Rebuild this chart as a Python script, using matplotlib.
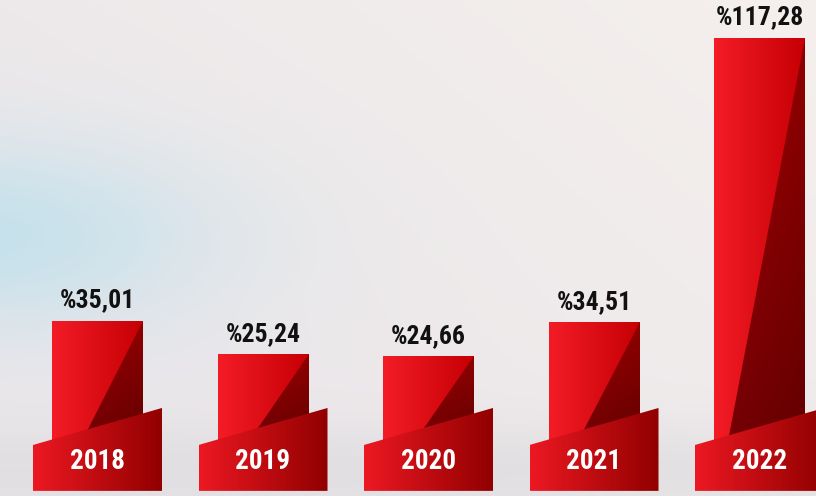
import numpy as np
import matplotlib
matplotlib.use("Agg")
import matplotlib.pyplot as plt
from matplotlib.patches import Polygon
from matplotlib import font_manager

# data
years = ["2018", "2019", "2020", "2021", "2022"]
values = [35.01, 25.24, 24.66, 34.51, 117.28]
value_labels = ["%" + f"{v:.2f}".replace(".", ",") for v in values]

# pick a narrow bold face if one is installed
names = {f.name for f in font_manager.fontManager.ttflist}
FONT = next((n for n in ["Liberation Sans Narrow", "Roboto Condensed", "Roboto", "DejaVu Sans"]
             if n in names), "DejaVu Sans")

W, H = 816, 496
fig = plt.figure(figsize=(W / 100, H / 100), dpi=100)
ax = fig.add_axes([0, 0, 1, 1])
ax.axis("off")

# axes scale: 165.5 px per bar slot, 3.44 px per percent, baseline 55 px from bottom
PX_X, PX_Y, BASE = 165.5, 3.44, 55
x0, x1 = -97.5 / PX_X, (W - 97.5) / PX_X
y0, y1 = -BASE / PX_Y, (H - BASE) / PX_Y
ax.set_xlim(x0, x1)
ax.set_ylim(y0, y1)

# background: pale grey, warm towards top right, bluish haze on the left
yy, xx = np.mgrid[0:H, 0:W].astype(float)
base = np.array([235, 231, 234]) / 255
warm = np.array([246, 241, 237]) / 255
blue = np.array([194, 225, 236]) / 255
grey = np.array([216, 215, 219]) / 255
t = np.clip((xx / W) * 0.7 + (1 - yy / H) * 0.5 - 0.3, 0, 1)[..., None]
bg = base * (1 - t) + warm * t
b = np.exp(-(((xx + 20) / 230) ** 2 + ((yy - 235) / 95) ** 2))[..., None]
bg = bg * (1 - 0.9 * b) + blue * 0.9 * b
g = np.exp(-((yy - 470) / 45) ** 2)[..., None] * 0.5
bg = bg * (1 - g) + grey * g
ax.imshow(bg, extent=(x0, x1, y0, y1), aspect="auto", zorder=0)


def grad_fill(poly_xy, c_left, c_right, extent, vertical=None, z=2):
    n = 64
    tx = np.linspace(0, 1, n)[None, :, None]
    img = np.array(c_left) / 255 * (1 - tx) + np.array(c_right) / 255 * tx
    img = np.repeat(img, n, axis=0)
    if vertical is not None:
        ty = np.linspace(0, 1, n)[:, None, None]  # 0 = top row
        img = img * (1 - vertical * ty)
    patch = Polygon(poly_xy, closed=True, transform=ax.transData, facecolor="none", edgecolor="none")
    im = ax.imshow(img, extent=extent, aspect="auto", interpolation="bilinear", zorder=z)
    im.set_clip_path(patch)


BAR_W = 91 / PX_X
PLATE_W = 129 / PX_X
vmax = max(values)
for i, (yr, v, lab) in enumerate(zip(years, values, value_labels)):
    l, r = i - BAR_W / 2, i + BAR_W / 2
    # main bar
    grad_fill([(l, 0), (l, v), (r, v), (r, 0)], (243, 28, 38), (198, 0, 4), (l, r, 0, v), z=2)
    # dark diagonal face
    frac = 0.6 + 0.25 * v / vmax
    grad_fill([(r, v), (r, 0), (r - frac * (r - l), 0)], (172, 0, 8), (142, 0, 0),
              (l, r, 0, v), vertical=0.3, z=3)
    # front plate
    pl, pr = i - PLATE_W / 2, i + PLATE_W / 2
    grad_fill([(pl, -1.16), (pr, 9.6), (pr, -14.5), (pl, -14.5)], (236, 24, 34), (146, 0, 0),
              (pl, pr, -14.5, 9.6), z=4)
    ax.text(i, -6.1, yr, color="white", fontsize=19.5, fontweight="bold",
            family=FONT, ha="center", va="center", zorder=5)
    ax.text(i, v + 5.8, lab, color="#111111", fontsize=18.5, fontweight="bold",
            family=FONT, ha="center", va="center", zorder=5)

fig.savefig("out.png", dpi=100)
